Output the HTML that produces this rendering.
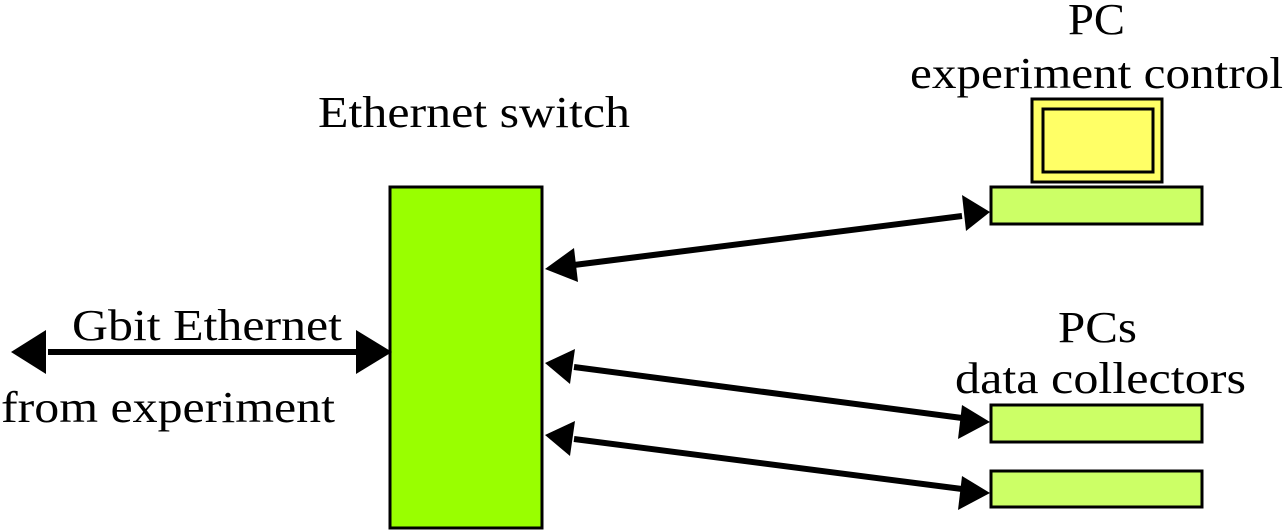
<!DOCTYPE html>
<html><head><style>html,body{margin:0;padding:0;background:#fff;}svg{display:block}</style></head>
<body>
<svg width="1286" height="531" viewBox="0 0 1286 531" xmlns="http://www.w3.org/2000/svg">
<rect x="390" y="187" width="152" height="341" fill="#99ff00" stroke="#000" stroke-width="3"/>
<rect x="1032" y="99" width="130" height="83" fill="#ffff66" stroke="#000" stroke-width="3"/>
<rect x="1043" y="109" width="110" height="63" fill="#ffff66" stroke="#000" stroke-width="3"/>
<rect x="991" y="187" width="211" height="37" fill="#ccff66" stroke="#000" stroke-width="3"/>
<rect x="991" y="405" width="211" height="37" fill="#ccff66" stroke="#000" stroke-width="3"/>
<rect x="991" y="471" width="211" height="36" fill="#ccff66" stroke="#000" stroke-width="3"/>
<g stroke="#000" stroke-width="6">
<line x1="48" y1="352" x2="356" y2="352"/>
<line x1="574" y1="265" x2="962" y2="216" />
<line x1="574" y1="367" x2="962" y2="418" />
<line x1="574" y1="439" x2="962" y2="489" />
</g>
<g fill="#000">
<path d="M11,352 L46,330 L46,374 Z"/>
<path d="M392,352 L356,330 L356,374 Z"/>
<path d="M545,269 L574,248 L578,282 Z"/>
<path d="M990,212 L962,195 L966,231 Z"/>
<path d="M545,363 L575,349 L570,384 Z"/>
<path d="M990,422 L962,405 L958,439 Z"/>
<path d="M545,435 L575,421 L570,456 Z"/>
<path d="M990,493 L962,476 L958,510 Z"/>
</g>
<g style="font-family:'Liberation Serif','Times New Roman',serif" font-size="44" fill="#000">
<text x="318" y="127" textLength="312" lengthAdjust="spacingAndGlyphs">Ethernet switch</text>
<text x="1068" y="34" textLength="57" lengthAdjust="spacingAndGlyphs">PC</text>
<text x="910" y="88" textLength="373" lengthAdjust="spacingAndGlyphs">experiment control</text>
<text x="1058" y="342" textLength="79" lengthAdjust="spacingAndGlyphs">PCs</text>
<text x="955" y="393" textLength="291" lengthAdjust="spacingAndGlyphs">data collectors</text>
<text x="72" y="340" textLength="270" lengthAdjust="spacingAndGlyphs">Gbit Ethernet</text>
<text x="1" y="422" textLength="334" lengthAdjust="spacingAndGlyphs">from experiment</text>
</g>
</svg>
</body></html>
